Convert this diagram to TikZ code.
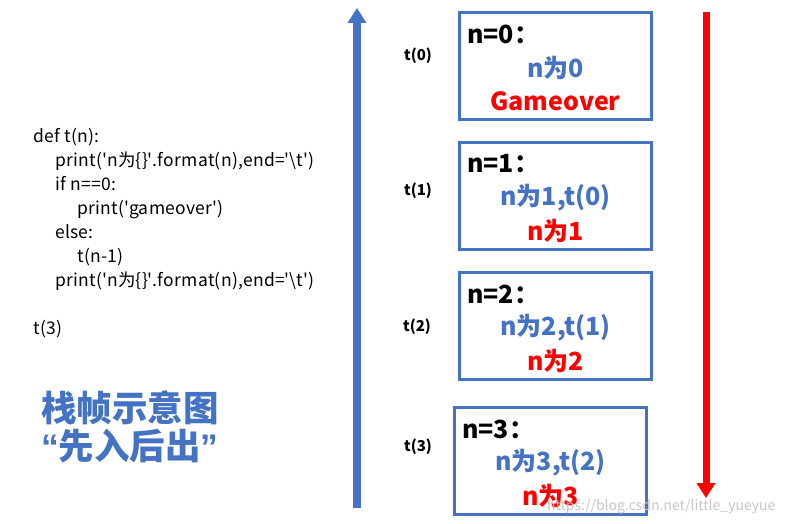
\documentclass[tikz,border=0pt]{standalone}
\usepackage{fontspec}
\setmainfont{Noto Sans CJK SC}
\newfontfamily\quotefont{Liberation Sans}
\newfontfamily\codefont[LetterSpace=1.6]{Noto Sans CJK SC}
\usetikzlibrary{arrows.meta}
\definecolor{frameblue}{HTML}{4472C4}
\definecolor{popred}{HTML}{FF0000}
\tikzset{
  frame/.style={draw=frameblue, line width=2.6pt, minimum width=192pt, minimum height=107pt, inner sep=0pt},
  head/.style={font=\bfseries\fontsize{25}{27}\selectfont, text=black, anchor=west, inner sep=0pt},
  push/.style={font=\bfseries\fontsize{25}{27}\selectfont, text=frameblue, inner sep=0pt},
  pop/.style={font=\bfseries\fontsize{25}{27}\selectfont, text=popred, inner sep=0pt},
  call/.style={font=\bfseries\fontsize{15}{16}\selectfont, inner sep=0pt},
}
\begin{document}
\begin{tikzpicture}[x=1pt, y=-1pt]
  \useasboundingbox (0,0) rectangle (788,524);

  % the code on the left
  \node[anchor=north west, align=left, inner sep=0pt, font=\codefont\fontsize{17.5}{24}\selectfont] (code) at (33,128)
    {def t(n):\\
     \hspace*{22pt}print(\textquotesingle n为\{\}\textquotesingle.format(n),end=\textquotesingle\textbackslash t\textquotesingle)\\
     \hspace*{22pt}if n==0:\\
     \hspace*{44pt}print(\textquotesingle gameover\textquotesingle)\\
     \hspace*{22pt}else:\\
     \hspace*{44pt}t(n-1)\\
     \hspace*{22pt}print(\textquotesingle n为\{\}\textquotesingle.format(n),end=\textquotesingle\textbackslash t\textquotesingle)\\[24pt]
     t(3)};

  % title
  \node[anchor=north west, align=left, inner sep=0pt, text=frameblue,
        font=\bfseries\fontsize{35.5}{38}\selectfont] (title) at (41,390)
    {栈帧示意图\\{\quotefont “}先入后出{\quotefont ”}};

  % the frames, from t(0) on top down to t(3)
  \foreach \i/\xl/\yt/\mid/\low in {0/458/11/{n为0}/{Gameover},
                                    1/458/141/{n为1,t(0)}/{n为1},
                                    2/458/271/{n为2,t(1)}/{n为2},
                                    3/453/406/{n为3,t(2)}/{n为3}} {
    \pgfmathsetmacro{\xc}{\xl+97.5}
    \node[frame] (box\i) at (\xc,\yt+55) {};
    \node[head] (head\i) at (\xl+9,\yt+23) {n=\i：};
    \node[push] (push\i) at (\xc,\yt+57) {\mid};
    \node[pop]  (pop\i)  at (\xc,\yt+90) {\low};
  }

  % call labels
  \node[call] (t0) at (418,56)  {t(0)};
  \node[call] (t1) at (418,191) {t(1)};
  \node[call] (t2) at (417,327) {t(2)};
  \node[call] (t3) at (418,447) {t(3)};

  % push goes up, pop comes down
  \coordinate (upfoot) at (357,508);
  \coordinate (uptop)  at (357,8);
  \coordinate (downtop)  at (706,12);
  \coordinate (downfoot) at (706,498);
  \draw[frameblue, line width=8pt, -{Triangle[width=18pt,length=15pt]}] (upfoot) -- (uptop);
  \draw[popred, line width=7pt, -{Triangle[width=18pt,length=15pt]}] (downtop) -- (downfoot);

  % watermark
  \node[text=black!22, font=\fontsize{14}{15}\selectfont, anchor=west, inner sep=0pt] (mark) at (547,507)
    {https://blog.csdn.net/little\_yueyue};
\end{tikzpicture}
\end{document}
